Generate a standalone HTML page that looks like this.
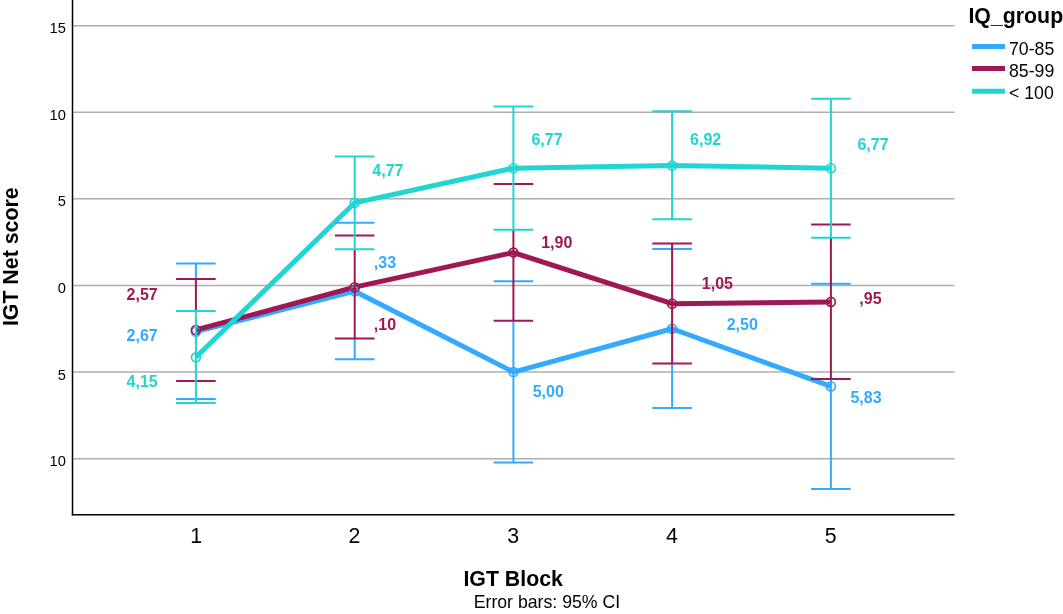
<!DOCTYPE html>
<html lang="en"><head><meta charset="utf-8"><title>IGT Net score by IGT Block</title>
<style>
html,body{margin:0;padding:0;background:#fff;}
body{width:1063px;height:614px;overflow:hidden;font-family:"Liberation Sans",Arial,sans-serif;}
svg{display:block;}
text{font-family:"Liberation Sans",Arial,sans-serif;fill:#000;}
.yt{font-size:14.67px;text-anchor:end;}
.xt{font-size:21.33px;text-anchor:middle;}
.ttl{font-size:21.33px;font-weight:bold;}
.lg{font-size:17.7px;}
.dl{font-size:16px;font-weight:bold;}
</style></head><body>
<svg width="1063" height="614" viewBox="0 0 1063 614">
<rect width="1063" height="614" fill="#fff"/>
<g stroke="#aeaeae" stroke-width="1.5">
<line x1="72.4" x2="954.5" y1="25.65" y2="25.65"/>
<line x1="72.4" x2="954.5" y1="112.25" y2="112.25"/>
<line x1="72.4" x2="954.5" y1="198.85" y2="198.85"/>
<line x1="72.4" x2="954.5" y1="285.45" y2="285.45"/>
<line x1="72.4" x2="954.5" y1="372.05" y2="372.05"/>
<line x1="72.4" x2="954.5" y1="458.65" y2="458.65"/>
</g>
<polyline points="195.9,331.69 354.7,291.17 513.4,372.05 672.1,328.75 830.9,386.43" fill="none" stroke="#33aaff" stroke-width="5" stroke-linejoin="round"/>
<polyline points="195.9,329.96 354.7,287.18 513.4,252.54 672.1,303.64 830.9,301.90" fill="none" stroke="#9f1853" stroke-width="5" stroke-linejoin="round"/>
<polyline points="195.9,357.33 354.7,202.83 513.4,168.19 672.1,165.60 830.9,168.19" fill="none" stroke="#21d5d2" stroke-width="5" stroke-linejoin="round"/>
<circle cx="195.9" cy="331.69" r="4.45" fill="none" stroke="#33aaff" stroke-width="1.7"/>
<circle cx="354.7" cy="291.17" r="4.45" fill="none" stroke="#33aaff" stroke-width="1.7"/>
<circle cx="513.4" cy="372.05" r="4.45" fill="none" stroke="#33aaff" stroke-width="1.7"/>
<circle cx="672.1" cy="328.75" r="4.45" fill="none" stroke="#33aaff" stroke-width="1.7"/>
<circle cx="830.9" cy="386.43" r="4.45" fill="none" stroke="#33aaff" stroke-width="1.7"/>
<circle cx="195.9" cy="329.96" r="4.45" fill="none" stroke="#9f1853" stroke-width="1.7"/>
<circle cx="354.7" cy="287.18" r="4.45" fill="none" stroke="#9f1853" stroke-width="1.7"/>
<circle cx="513.4" cy="252.54" r="4.45" fill="none" stroke="#9f1853" stroke-width="1.7"/>
<circle cx="672.1" cy="303.64" r="4.45" fill="none" stroke="#9f1853" stroke-width="1.7"/>
<circle cx="830.9" cy="301.90" r="4.45" fill="none" stroke="#9f1853" stroke-width="1.7"/>
<circle cx="195.9" cy="357.33" r="4.45" fill="none" stroke="#21d5d2" stroke-width="1.7"/>
<circle cx="354.7" cy="202.83" r="4.45" fill="none" stroke="#21d5d2" stroke-width="1.7"/>
<circle cx="513.4" cy="168.19" r="4.45" fill="none" stroke="#21d5d2" stroke-width="1.7"/>
<circle cx="672.1" cy="165.60" r="4.45" fill="none" stroke="#21d5d2" stroke-width="1.7"/>
<circle cx="830.9" cy="168.19" r="4.45" fill="none" stroke="#21d5d2" stroke-width="1.7"/>
<g stroke="#33aaff" stroke-width="2">
<line x1="195.9" x2="195.9" y1="263.60" y2="278.90"/>
<line x1="176.1" x2="215.7" y1="263.60" y2="263.60"/>
<line x1="176.1" x2="215.7" y1="399.10" y2="399.10"/>
<line x1="354.7" x2="354.7" y1="338.40" y2="359.20"/>
<line x1="334.9" x2="374.5" y1="222.70" y2="222.70"/>
<line x1="334.9" x2="374.5" y1="359.20" y2="359.20"/>
<line x1="513.4" x2="513.4" y1="320.80" y2="462.50"/>
<line x1="493.6" x2="533.2" y1="281.20" y2="281.20"/>
<line x1="493.6" x2="533.2" y1="462.50" y2="462.50"/>
<line x1="672.1" x2="672.1" y1="363.60" y2="408.00"/>
<line x1="652.3" x2="691.9" y1="249.10" y2="249.10"/>
<line x1="652.3" x2="691.9" y1="408.00" y2="408.00"/>
<line x1="830.9" x2="830.9" y1="379.10" y2="488.90"/>
<line x1="811.1" x2="850.7" y1="283.85" y2="283.85"/>
<line x1="811.1" x2="850.7" y1="488.90" y2="488.90"/>
</g>
<g stroke="#9f1853" stroke-width="2">
<line x1="195.9" x2="195.9" y1="278.90" y2="311.00"/>
<line x1="176.1" x2="215.7" y1="278.90" y2="278.90"/>
<line x1="176.1" x2="215.7" y1="381.00" y2="381.00"/>
<line x1="354.7" x2="354.7" y1="249.20" y2="338.40"/>
<line x1="334.9" x2="374.5" y1="235.40" y2="235.40"/>
<line x1="334.9" x2="374.5" y1="338.40" y2="338.40"/>
<line x1="513.4" x2="513.4" y1="229.65" y2="320.80"/>
<line x1="493.6" x2="533.2" y1="183.90" y2="183.90"/>
<line x1="493.6" x2="533.2" y1="320.80" y2="320.80"/>
<line x1="672.1" x2="672.1" y1="243.40" y2="363.60"/>
<line x1="652.3" x2="691.9" y1="243.40" y2="243.40"/>
<line x1="652.3" x2="691.9" y1="363.60" y2="363.60"/>
<line x1="830.9" x2="830.9" y1="237.80" y2="379.10"/>
<line x1="811.1" x2="850.7" y1="224.40" y2="224.40"/>
<line x1="811.1" x2="850.7" y1="379.10" y2="379.10"/>
</g>
<g stroke="#21d5d2" stroke-width="2">
<line x1="195.9" x2="195.9" y1="311.00" y2="403.10"/>
<line x1="176.1" x2="215.7" y1="311.00" y2="311.00"/>
<line x1="176.1" x2="215.7" y1="403.10" y2="403.10"/>
<line x1="354.7" x2="354.7" y1="156.60" y2="249.20"/>
<line x1="334.9" x2="374.5" y1="156.60" y2="156.60"/>
<line x1="334.9" x2="374.5" y1="249.20" y2="249.20"/>
<line x1="513.4" x2="513.4" y1="106.60" y2="229.65"/>
<line x1="493.6" x2="533.2" y1="106.60" y2="106.60"/>
<line x1="493.6" x2="533.2" y1="229.65" y2="229.65"/>
<line x1="672.1" x2="672.1" y1="111.20" y2="219.30"/>
<line x1="652.3" x2="691.9" y1="111.20" y2="111.20"/>
<line x1="652.3" x2="691.9" y1="219.30" y2="219.30"/>
<line x1="830.9" x2="830.9" y1="98.70" y2="237.80"/>
<line x1="811.1" x2="850.7" y1="98.70" y2="98.70"/>
<line x1="811.1" x2="850.7" y1="237.80" y2="237.80"/>
</g>
<line x1="72.5" x2="72.5" y1="0" y2="515.45" stroke="#000" stroke-width="1.5"/>
<line x1="71.75" x2="954.5" y1="514.7" y2="514.7" stroke="#000" stroke-width="1.5"/>
<text class="yt" x="65.8" y="33.10">15</text>
<text class="yt" x="65.8" y="119.70">10</text>
<text class="yt" x="65.8" y="206.30">5</text>
<text class="yt" x="65.8" y="292.90">0</text>
<text class="yt" x="65.8" y="379.50">5</text>
<text class="yt" x="65.8" y="466.10">10</text>
<text class="xt" x="196.3" y="542.6">1</text>
<text class="xt" x="354.5" y="542.6">2</text>
<text class="xt" x="513.2" y="542.6">3</text>
<text class="xt" x="671.9" y="542.6">4</text>
<text class="xt" x="830.7" y="542.6">5</text>
<text class="ttl" x="463.4" y="585.9">IGT Block</text>
<text class="lg" x="473.7" y="607.5">Error bars: 95% CI</text>
<text class="ttl" transform="translate(18.1,326.1) rotate(-90)">IGT Net score</text>
<text class="ttl" x="968.4" y="22.8">IQ_group</text>
<line x1="972" x2="1005" y1="46.4" y2="46.4" stroke="#33aaff" stroke-width="5"/>
<text class="lg" x="1009" y="54.6">70-85</text>
<line x1="972" x2="1005" y1="68.6" y2="68.6" stroke="#9f1853" stroke-width="5"/>
<text class="lg" x="1009" y="76.8">85-99</text>
<line x1="972" x2="1005" y1="91.2" y2="91.2" stroke="#21d5d2" stroke-width="5"/>
<text class="lg" x="1009" y="99.4">&lt; 100</text>
<text class="dl" x="126.60" y="299.90" style="fill:#9f1853">2,57</text>
<text class="dl" x="126.60" y="340.70" style="fill:#33aaff">2,67</text>
<text class="dl" x="126.60" y="387.20" style="fill:#21d5d2">4,15</text>
<text class="dl" x="372.30" y="176.00" style="fill:#21d5d2">4,77</text>
<text class="dl" x="373.85" y="268.40" style="fill:#33aaff">,33</text>
<text class="dl" x="373.85" y="329.80" style="fill:#9f1853">,10</text>
<text class="dl" x="531.40" y="145.30" style="fill:#21d5d2">6,77</text>
<text class="dl" x="541.20" y="248.10" style="fill:#9f1853">1,90</text>
<text class="dl" x="532.70" y="397.20" style="fill:#33aaff">5,00</text>
<text class="dl" x="690.10" y="145.30" style="fill:#21d5d2">6,92</text>
<text class="dl" x="701.80" y="288.90" style="fill:#9f1853">1,05</text>
<text class="dl" x="726.70" y="330.15" style="fill:#33aaff">2,50</text>
<text class="dl" x="857.40" y="150.20" style="fill:#21d5d2">6,77</text>
<text class="dl" x="859.30" y="304.00" style="fill:#9f1853">,95</text>
<text class="dl" x="850.45" y="402.50" style="fill:#33aaff">5,83</text>
</svg></body></html>
